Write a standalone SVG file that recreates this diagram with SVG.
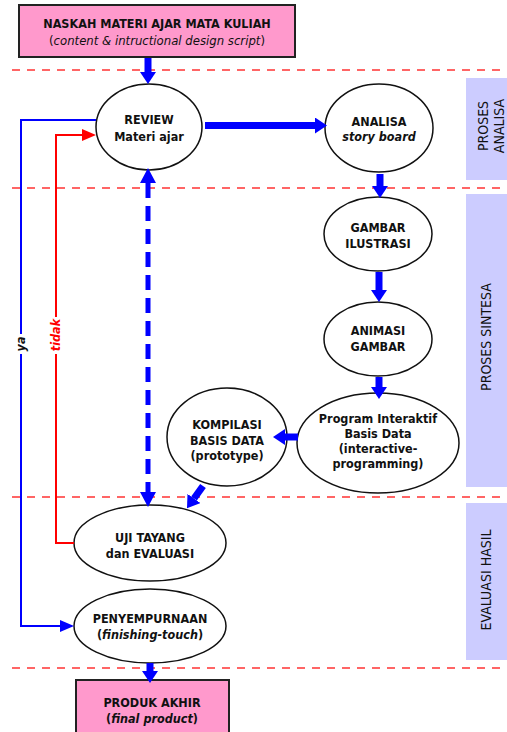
<svg xmlns="http://www.w3.org/2000/svg" width="507" height="732" viewBox="0 0 507 732">
<defs>
<style>
text{font-family:"DejaVu Sans Condensed","DejaVu Sans",sans-serif;font-stretch:condensed;font-size:12.5px;fill:#111;text-anchor:middle}
.b{font-weight:bold}
.i{font-style:italic}
.lbl{font-size:14px}
.node{fill:#fff;stroke:#111;stroke-width:1.5}
.box{fill:#ff99cc;stroke:#222;stroke-width:2}
.sep{stroke:#ff3333;stroke-width:1.5;stroke-dasharray:8 7;fill:none}
.band{fill:#ccccff}
.thick{stroke:#0000ff;stroke-width:7;fill:none;marker-end:url(#hb)}
.thin{stroke-width:2;fill:none}
</style>
<marker id="hb" viewBox="0 0 12 16" refX="0" refY="8" markerWidth="12" markerHeight="16" markerUnits="userSpaceOnUse" orient="auto"><path d="M0,0 L12,8 L0,16 z" fill="#0000ff"/></marker>
<marker id="tb" viewBox="0 0 14 12" refX="0" refY="6" markerWidth="14" markerHeight="12" markerUnits="userSpaceOnUse" orient="auto"><path d="M0,0 L14,6 L0,12 z" fill="#0000ff"/></marker>
<marker id="tr" viewBox="0 0 14 12" refX="0" refY="6" markerWidth="14" markerHeight="12" markerUnits="userSpaceOnUse" orient="auto"><path d="M0,0 L14,6 L0,12 z" fill="#ff0000"/></marker>
</defs>
<rect width="507" height="732" fill="#fff"/>

<g id="bands">
<rect class="band" x="466" y="78" width="41" height="102"/>
<rect class="band" x="466" y="194" width="41" height="293"/>
<rect class="band" x="466" y="503" width="41" height="157"/>
<text class="lbl" transform="translate(489,126) rotate(-90)"><tspan x="0" y="-1">PROSES</tspan><tspan x="0" y="15">ANALISA</tspan></text>
<text class="lbl" transform="translate(491,337) rotate(-90)">PROSES SINTESA</text>
<text class="lbl" transform="translate(491,580) rotate(-90)">EVALUASI HASIL</text>
</g>

<g id="separators">
<line class="sep" x1="12" y1="70" x2="507" y2="70"/>
<line class="sep" x1="12" y1="188" x2="507" y2="188"/>
<line class="sep" x1="12" y1="497" x2="507" y2="497"/>
<line class="sep" x1="12" y1="668" x2="507" y2="668"/>
</g>

<g id="naskah">
<rect class="box" x="19" y="5" width="276" height="52"/>
<text class="b" x="157" y="28">NASKAH MATERI AJAR MATA KULIAH</text>
<text x="157" y="45" style="font-stretch:normal;font-size:13px">(<tspan class="i">content &amp; intructional design script</tspan>)</text>
</g>

<g id="review">
<ellipse class="node" cx="149" cy="127" rx="53" ry="43"/>
<text class="b" x="149" y="124">REVIEW</text>
<text class="b" x="149" y="141">Materi ajar</text>
</g>

<g id="analisa">
<ellipse class="node" cx="379" cy="128" rx="54" ry="44"/>
<text class="b" x="379" y="126">ANALISA</text>
<text class="b i" x="379" y="141">story board</text>
</g>

<g id="gambar">
<ellipse class="node" cx="378" cy="234" rx="54" ry="37"/>
<text class="b" x="378" y="232">GAMBAR</text>
<text class="b" x="378" y="248">ILUSTRASI</text>
</g>

<g id="animasi">
<ellipse class="node" cx="378" cy="339" rx="54" ry="37"/>
<text class="b" x="378" y="335">ANIMASI</text>
<text class="b" x="378" y="351">GAMBAR</text>
</g>

<g id="program">
<ellipse class="node" cx="378" cy="443" rx="81" ry="50"/>
<text class="b" x="378" y="423">Program Interaktif</text>
<text class="b" x="378" y="438">Basis Data</text>
<text class="b" x="378" y="453">(interactive-</text>
<text class="b" x="378" y="468">programming)</text>
</g>

<g id="kompilasi">
<ellipse class="node" cx="227" cy="437" rx="60" ry="49"/>
<text class="b" x="227" y="429">KOMPILASI</text>
<text class="b" x="227" y="445">BASIS DATA</text>
<text class="b" x="227" y="460">(prototype)</text>
</g>

<g id="uji">
<ellipse class="node" cx="150" cy="543" rx="76" ry="38"/>
<text class="b" x="150" y="542">UJI TAYANG</text>
<text class="b" x="150" y="558">dan EVALUASI</text>
</g>

<g id="penyempurnaan">
<ellipse class="node" cx="150" cy="626" rx="76" ry="37"/>
<text class="b" x="150" y="623">PENYEMPURNAAN</text>
<text class="b" x="150" y="639">(<tspan class="i">finishing-touch</tspan>)</text>
</g>

<g id="produk">
<rect class="box" x="76" y="680" width="153" height="60"/>
<text class="b" x="152" y="707">PRODUK AKHIR</text>
<text class="b" x="152" y="723">(<tspan class="i">final product</tspan>)</text>
</g>

<g id="connectors">
<line class="thick" x1="148" y1="58" x2="148" y2="72"/>
<line class="thick" x1="205" y1="125.5" x2="315" y2="125.5"/>
<line class="thick" x1="380" y1="174" x2="380" y2="186"/>
<line class="thick" x1="379" y1="272" x2="379" y2="290"/>
<line class="thick" x1="379" y1="377" x2="379" y2="387"/>
<line class="thick" x1="298" y1="437" x2="285" y2="437"/>
<line class="thick" x1="203" y1="486" x2="194" y2="498.5"/>
<line class="thick" x1="150" y1="663" x2="150" y2="671"/>
<line x1="148" y1="183" x2="148" y2="492" stroke="#0000ff" stroke-width="5" stroke-dasharray="15 8"/>
<path d="M148,168 L156,183 L140,183 z" fill="#0000ff"/>
<path d="M148,507 L156,492 L140,492 z" fill="#0000ff"/>
<polyline class="thin" stroke="#0000ff" points="96,120 21,120 21,626 60,626" marker-end="url(#tb)"/>
<polyline class="thin" stroke="#ff0000" points="74,543 56,543 56,135 82,135" marker-end="url(#tr)"/>
<rect x="14" y="334" width="14" height="20" fill="#fff"/>
<text class="b i" transform="translate(25,344) rotate(-90)">ya</text>
<rect x="49" y="317" width="14" height="37" fill="#fff"/>
<text class="b i" transform="translate(60,335) rotate(-90)" style="fill:#ff0000">tidak</text>
</g>
</svg>
